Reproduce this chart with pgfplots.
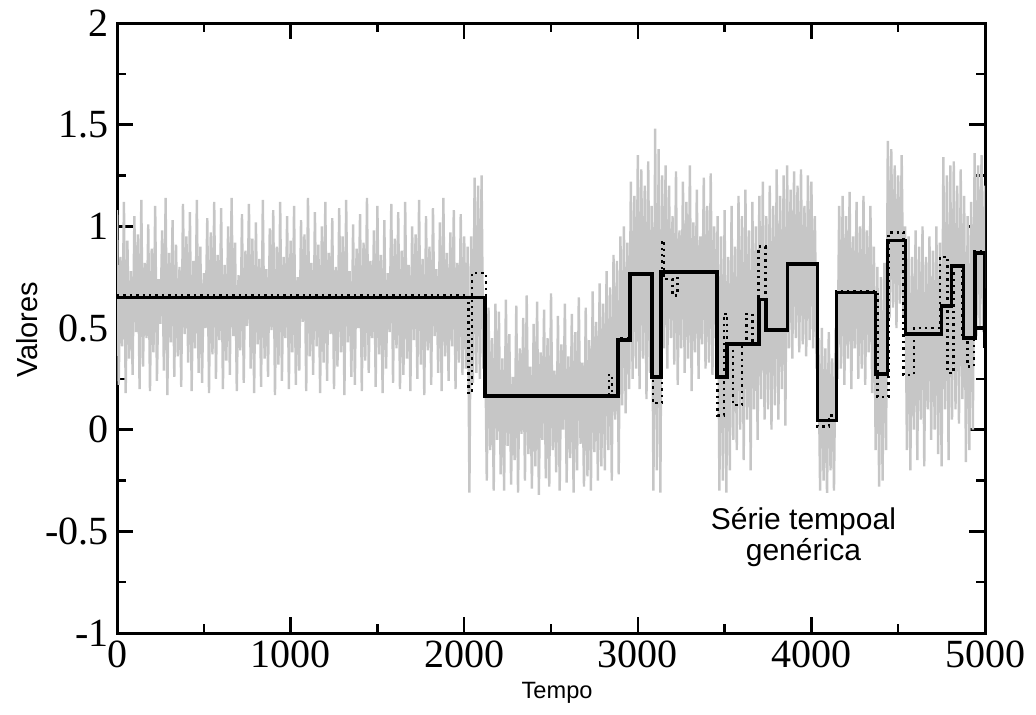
\documentclass[border=0pt]{standalone}
\usepackage{pgfplots}
\pgfplotsset{compat=1.18}
\usepackage{fontspec}
\setmainfont{Liberation Serif}
\newfontfamily\arial{Liberation Sans}
\definecolor{noise}{RGB}{198,198,198}
\begin{document}
\begin{tikzpicture}
\path[use as bounding box] (0,0) rectangle (518pt,357pt);
\begin{axis}[
  at={(58.5pt,40.5pt)}, anchor=south west,
  scale only axis, width=434pt, height=305pt,
  xmin=0, xmax=5000, ymin=-1, ymax=2,
  xtick={0,1000,2000,3000,4000,5000},
  xticklabels={0,1000,2000,3000,4000,5000},
  ytick={-1,-0.5,0,0.5,1,1.5,2},
  yticklabels={-1,-0.5,0,0.5,1,1.5,2},
  minor x tick num=1, minor y tick num=1,
  tick align=inside,
  major tick length=8pt, minor tick length=4.5pt,
  every tick/.style={black, line width=1.2pt},
  line width=1.5pt,
  ticklabel style={font=\fontsize{20}{20}\selectfont},
  xlabel={Tempo}, ylabel={Valores},
  xlabel style={font=\arial\fontsize{11.8}{12}\selectfont, at={(axis description cs:0.507,-0.098)}, anchor=center},
  ylabel style={font=\arial\fontsize{14.5}{15}\selectfont, at={(axis description cs:-0.104,0.497)}, anchor=center},
  clip=true,
]
\addplot[color=noise, line width=1.2pt, line join=bevel] coordinates {
(0,1.08)(10,0.22)(20,0.85)(30,0.41)(40,1.12)(50,0.18)(60,0.93)(70,0.35)(80,0.78)(90,0.27)
(100,1.05)(110,0.48)(120,0.96)(130,0.20)(140,1.13)(150,0.31)(160,0.82)(170,0.45)(180,1.01)(190,0.19)
(200,0.89)(210,0.38)(220,1.10)(230,0.24)(240,0.74)(250,0.52)(260,0.98)(270,0.29)(280,1.14)(290,0.17)
(300,0.87)(310,0.43)(320,1.03)(330,0.26)(340,0.91)(350,0.36)(360,0.80)(370,0.21)(380,1.11)(390,0.47)
(400,0.95)(410,0.33)(420,1.07)(430,0.19)(440,0.83)(450,0.40)(460,1.13)(470,0.28)(480,0.90)(490,0.23)
(500,0.77)(510,0.50)(520,1.04)(530,0.18)(540,0.97)(550,0.37)(560,1.12)(570,0.25)(580,0.86)(590,0.44)
(600,1.09)(610,0.20)(620,0.81)(630,0.34)(640,1.00)(650,0.27)(660,1.14)(670,0.46)(680,0.92)(690,0.19)
(700,0.76)(710,0.39)(720,1.06)(730,0.23)(740,0.88)(750,0.51)(760,1.11)(770,0.30)(780,0.94)(790,0.18)
(800,1.02)(810,0.42)(820,0.84)(830,0.21)(840,1.13)(850,0.35)(860,0.79)(870,0.26)(880,0.99)(890,0.49)
(900,1.08)(910,0.17)(920,0.90)(930,0.32)(940,1.12)(950,0.24)(960,0.85)(970,0.45)(980,1.05)(990,0.20)
(1000,0.93)(1010,0.38)(1020,1.10)(1030,0.22)(1040,0.75)(1050,0.29)(1060,1.03)(1070,0.53)(1080,0.96)(1090,0.19)
(1100,1.14)(1110,0.36)(1120,0.82)(1130,0.27)(1140,1.07)(1150,0.41)(1160,0.91)(1170,0.18)(1180,1.00)(1190,0.33)
(1200,1.12)(1210,0.24)(1220,0.87)(1230,0.47)(1240,1.04)(1250,0.20)(1260,0.80)(1270,0.31)(1280,1.09)(1290,0.38)
(1300,0.95)(1310,0.17)(1320,1.13)(1330,0.43)(1340,0.78)(1350,0.26)(1360,1.01)(1370,0.22)(1380,0.89)(1390,0.50)
(1400,1.06)(1410,0.19)(1420,0.92)(1430,0.34)(1440,1.14)(1450,0.28)(1460,0.83)(1470,0.45)(1480,0.98)(1490,0.21)
(1500,1.10)(1510,0.37)(1520,0.86)(1530,0.18)(1540,1.03)(1550,0.30)(1560,0.77)(1570,0.48)(1580,1.11)(1590,0.23)
(1600,0.94)(1610,0.40)(1620,1.07)(1630,0.20)(1640,0.88)(1650,0.27)(1660,1.12)(1670,0.35)(1680,0.81)(1690,0.19)
(1700,1.00)(1710,0.44)(1720,0.96)(1730,0.25)(1740,1.13)(1750,0.32)(1760,0.84)(1770,0.17)(1780,1.05)(1790,0.39)
(1800,0.90)(1810,0.22)(1820,1.09)(1830,0.46)(1840,0.79)(1850,0.28)(1860,1.02)(1870,0.19)(1880,1.14)(1890,0.36)
(1900,0.87)(1910,0.24)(1920,0.97)(1930,0.41)(1940,1.08)(1950,0.20)(1960,0.82)(1970,0.33)(1980,1.06)(1990,0.27)
(2000,0.95)(2010,0.30)(2020,0.90)(2030,-0.31)(2040,0.95)(2050,0.23)(2060,1.24)(2070,0.28)(2080,1.20)(2090,0.25)
(2100,1.25)(2110,0.30)(2120,0.50)(2130,-0.25)(2140,0.60)(2150,-0.10)(2160,0.45)(2170,-0.30)(2180,0.62)(2190,-0.05)
(2200,0.58)(2210,-0.22)(2220,0.35)(2230,-0.30)(2240,0.64)(2250,-0.08)(2260,0.47)(2270,-0.27)(2280,0.26)(2290,-0.15)
(2300,0.61)(2310,-0.31)(2320,0.40)(2330,-0.02)(2340,0.55)(2350,-0.25)(2360,0.66)(2370,-0.12)(2380,0.31)(2390,-0.29)
(2400,0.52)(2410,-0.18)(2420,0.63)(2430,-0.32)(2440,0.38)(2450,-0.05)(2460,0.59)(2470,-0.24)(2480,0.45)(2490,-0.28)
(2500,0.67)(2510,-0.10)(2520,0.29)(2530,-0.21)(2540,0.56)(2550,-0.30)(2560,0.42)(2570,0.00)(2580,0.62)(2590,-0.26)
(2600,0.36)(2610,-0.14)(2620,0.57)(2630,-0.31)(2640,0.48)(2650,-0.20)(2660,0.65)(2670,-0.07)(2680,0.33)(2690,-0.28)
(2700,0.60)(2710,-0.23)(2720,0.44)(2730,-0.30)(2740,0.68)(2750,-0.11)(2760,0.53)(2770,-0.25)(2780,0.72)(2790,-0.18)
(2800,0.62)(2810,-0.20)(2820,0.78)(2830,-0.10)(2840,0.70)(2850,-0.25)(2860,0.86)(2870,0.05)(2880,0.83)(2890,-0.22)
(2900,0.95)(2910,0.12)(2920,1.00)(2930,0.08)(2940,0.92)(2950,0.20)(2960,1.22)(2970,0.25)(2980,1.15)(2990,0.30)
(3000,1.35)(3010,0.20)(3020,1.28)(3030,0.35)(3040,1.20)(3050,0.15)(3060,1.32)(3070,0.28)(3080,1.10)(3090,-0.30)
(3100,1.48)(3110,-0.20)(3120,1.38)(3130,-0.31)(3140,1.25)(3150,0.40)(3160,1.30)(3170,0.30)(3180,1.20)(3190,0.45)
(3200,1.05)(3210,0.32)(3220,1.27)(3230,0.22)(3240,0.98)(3250,0.40)(3260,1.22)(3270,0.28)(3280,1.12)(3290,0.35)
(3300,1.30)(3310,0.19)(3320,1.02)(3330,0.38)(3340,1.18)(3350,0.25)(3360,0.95)(3370,0.42)(3380,1.24)(3390,0.30)
(3400,1.10)(3410,0.33)(3420,1.26)(3430,0.27)(3440,1.00)(3450,0.45)(3460,1.05)(3470,-0.30)(3480,0.95)(3490,-0.25)
(3500,1.08)(3510,-0.31)(3520,0.85)(3530,-0.20)(3540,1.10)(3550,-0.05)(3560,0.90)(3570,-0.10)(3580,1.15)(3590,0.00)
(3600,1.05)(3610,-0.15)(3620,1.18)(3630,0.05)(3640,0.98)(3650,-0.20)(3660,1.12)(3670,0.10)(3680,1.00)(3690,-0.05)
(3700,1.15)(3710,0.15)(3720,1.22)(3730,0.05)(3740,1.05)(3750,0.10)(3760,1.20)(3770,0.00)(3780,1.10)(3790,0.12)
(3800,1.28)(3810,0.05)(3820,1.15)(3830,0.20)(3840,1.25)(3850,0.02)(3860,1.30)(3870,0.40)(3880,1.18)(3890,0.35)
(3900,1.27)(3910,0.45)(3920,1.20)(3930,0.38)(3940,1.28)(3950,0.42)(3960,1.10)(3970,0.36)(3980,1.25)(3990,0.44)
(4000,1.22)(4010,0.40)(4020,1.05)(4030,0.30)(4040,0.45)(4050,-0.30)(4060,0.50)(4070,-0.25)(4080,0.40)(4090,-0.33)
(4100,0.48)(4110,-0.20)(4120,0.35)(4130,-0.30)(4140,0.50)(4150,0.25)(4160,1.10)(4170,0.30)(4180,1.15)(4190,0.22)
(4200,1.05)(4210,0.35)(4220,1.17)(4230,0.20)(4240,0.95)(4250,0.40)(4260,1.12)(4270,0.25)(4280,1.00)(4290,0.30)
(4300,1.15)(4310,0.22)(4320,0.98)(4330,0.38)(4340,1.10)(4350,0.18)(4360,0.90)(4370,-0.10)(4380,0.80)(4390,-0.28)
(4400,0.75)(4410,-0.25)(4420,0.82)(4430,-0.10)(4440,1.42)(4450,0.55)(4460,1.38)(4470,0.60)(4480,1.30)(4490,0.50)
(4500,1.25)(4510,0.62)(4520,1.35)(4530,0.55)(4540,1.00)(4550,-0.10)(4560,0.95)(4570,-0.20)(4580,0.85)(4590,0.00)
(4600,0.98)(4610,-0.15)(4620,0.90)(4630,0.05)(4640,1.00)(4650,-0.18)(4660,0.85)(4670,0.10)(4680,0.95)(4690,-0.05)
(4700,0.88)(4710,0.00)(4720,1.00)(4730,-0.12)(4740,0.92)(4750,-0.18)(4760,1.34)(4770,0.10)(4780,1.25)(4790,-0.15)
(4800,1.30)(4810,0.05)(4820,1.32)(4830,0.10)(4840,1.20)(4850,0.03)(4860,1.28)(4870,0.15)(4880,1.15)(4890,-0.16)
(4900,1.05)(4910,-0.10)(4920,1.12)(4930,0.00)(4940,1.36)(4950,0.46)(4960,1.30)(4970,0.50)(4980,1.35)(4990,0.48)(5000,1.20)
};
\addplot[black, line width=1.9pt, line join=miter] coordinates {
(0,0.65)(2121,0.65)(2121,0.165)(2888,0.165)(2888,0.44)(2955,0.44)(2955,0.765)(3083,0.765)(3083,0.26)(3135,0.26)
(3135,0.775)(3458,0.775)(3458,0.26)(3516,0.26)(3516,0.42)(3700,0.42)(3700,0.64)(3740,0.64)(3740,0.49)(3862,0.49)
(3862,0.815)(4035,0.815)(4035,0.045)(4144,0.045)(4144,0.675)(4369,0.675)(4369,0.275)(4438,0.275)(4438,0.93)(4542,0.93)
(4542,0.47)(4749,0.47)(4749,0.61)(4807,0.61)(4807,0.805)(4876,0.805)(4876,0.45)(4940,0.45)(4940,0.87)(4998,0.87)(4998,0.40)
};
\addplot[black, line width=1.9pt] coordinates {(4940,0.5)(4998,0.5)};
\addplot[black, line width=1.2pt, dash pattern=on 1.2pt off 2pt] coordinates {
(0,0.662)(2025,0.662)(2025,0.18)(2045,0.18)(2045,0.77)(2125,0.77)(2125,0.17)(2835,0.17)(2835,0.27)(2852,0.27)
(2852,0.17)(2885,0.17)(2885,0.45)(2950,0.45)(2950,0.77)(3088,0.77)(3088,0.13)(3140,0.13)(3140,0.93)(3150,0.93)
(3150,0.74)(3200,0.74)(3200,0.66)(3228,0.66)(3228,0.78)(3460,0.78)(3460,0.07)(3495,0.07)(3495,0.57)(3515,0.57)
(3515,0.42)(3550,0.42)(3550,0.12)(3600,0.12)(3600,0.42)(3625,0.42)(3625,0.57)(3660,0.57)(3660,0.42)(3695,0.42)
(3695,0.9)(3735,0.9)(3735,0.49)(3862,0.49)(3862,0.82)(4035,0.82)(4035,0.015)(4100,0.015)(4100,0.07)(4144,0.07)
(4144,0.68)(4380,0.68)(4380,0.16)(4445,0.16)(4445,0.97)(4530,0.97)(4530,0.27)(4590,0.27)(4590,0.5)(4740,0.5)
(4740,0.85)(4785,0.85)(4785,0.28)(4818,0.28)(4818,0.8)(4870,0.8)(4870,0.45)(4900,0.45)(4900,0.31)(4935,0.31)
(4935,0.88)(5000,0.88)
};
\node[fill=white, inner sep=0pt, minimum width=123pt, minimum height=43pt] at (axis cs:4029,-0.523) {};
\node[align=center, font=\arial\fontsize{15}{15.5}\selectfont] at (axis cs:3954,-0.53) {Série tempoal\\genérica};
\end{axis}
\end{tikzpicture}
\end{document}
